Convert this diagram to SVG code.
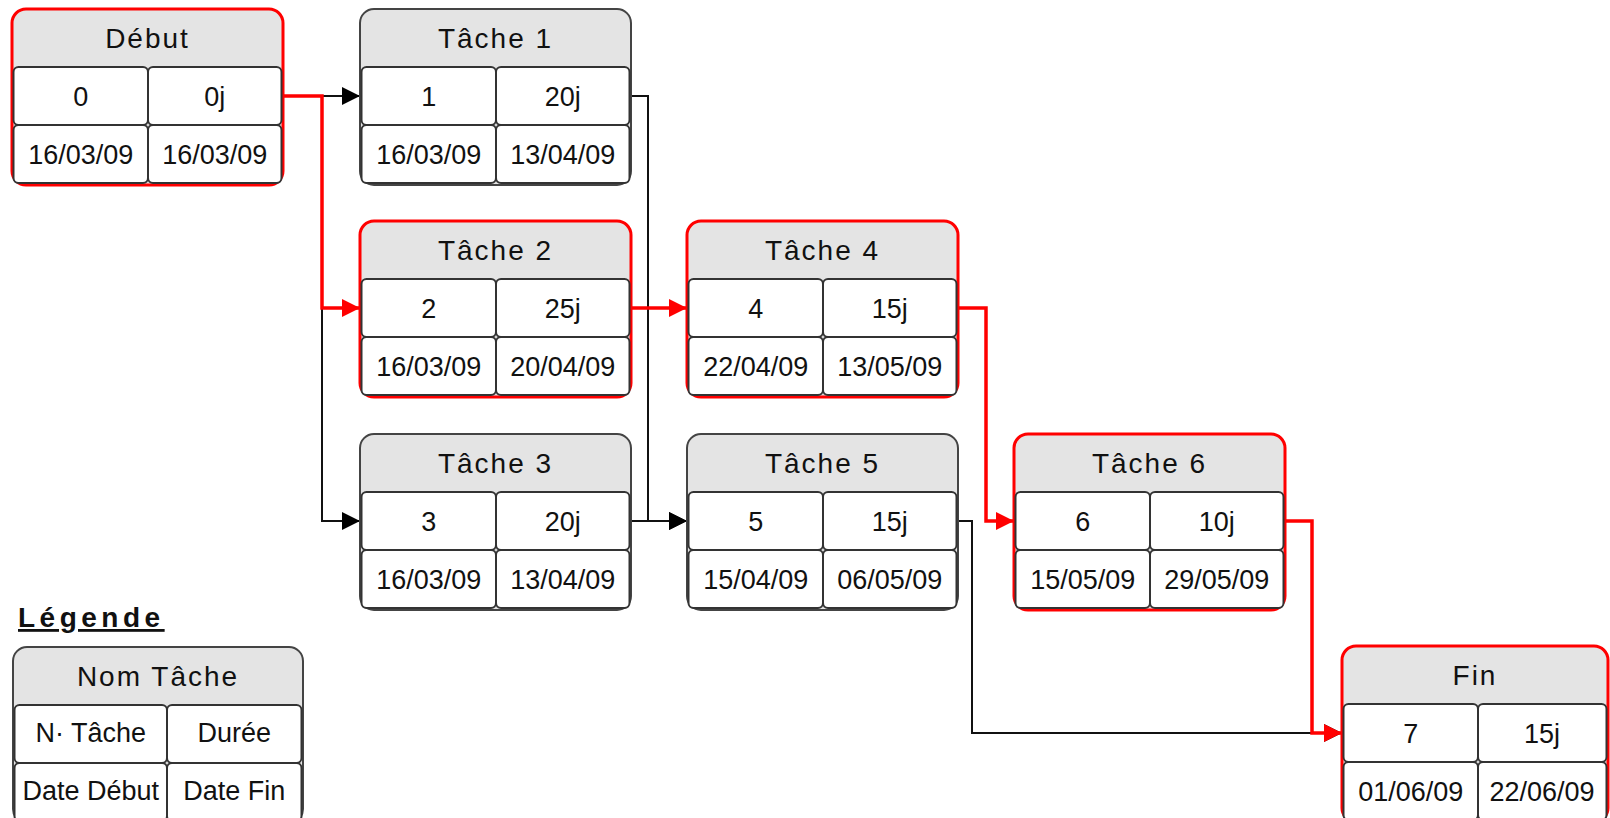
<svg xmlns="http://www.w3.org/2000/svg" width="1610" height="818" viewBox="0 0 1610 818">
<defs>
<style>
.outer{fill:#e4e4e4;stroke:#444;stroke-width:2}
.crit{stroke:#ff0000;stroke-width:3}
.cell{fill:#fff;stroke:#333;stroke-width:2}
.h{font-family:"Liberation Sans",Arial,sans-serif;font-size:28px;letter-spacing:2px;fill:#111;text-anchor:middle}
.c{font-family:"Liberation Sans",Arial,sans-serif;font-size:27px;fill:#111;text-anchor:middle}
.lk{fill:none;stroke:#111;stroke-width:2}
.lr{fill:none;stroke:#ff0000;stroke-width:3.5}
</style>
<marker id="ab" markerUnits="userSpaceOnUse" markerWidth="20" markerHeight="20" refX="18" refY="9" orient="auto"><path d="M0,0 L18,9 L0,18 Z" fill="#000"/></marker>
<marker id="ar" markerUnits="userSpaceOnUse" markerWidth="20" markerHeight="20" refX="18" refY="9" orient="auto"><path d="M0,0 L18,9 L0,18 Z" fill="#ff0000"/></marker>
</defs>
<rect width="1610" height="818" fill="#fff"/>

<g id="connectors">
<path class="lk" d="M283,96 H360" marker-end="url(#ab)"/>
<path class="lk" d="M283,96 H322 V521 H360" marker-end="url(#ab)"/>
<path class="lk" d="M631,96 H648 V521 H687" marker-end="url(#ab)"/>
<path class="lk" d="M631,521 H687" marker-end="url(#ab)"/>
<path class="lk" d="M958,521 H972 V733 H1342" marker-end="url(#ab)"/>
<path class="lr" d="M283,96 H322 V308 H360" marker-end="url(#ar)"/>
<path class="lr" d="M631,308 H687" marker-end="url(#ar)"/>
<path class="lr" d="M958,308 H986 V521 H1014" marker-end="url(#ar)"/>
<path class="lr" d="M1285,521 H1312 V733 H1342" marker-end="url(#ar)"/>
</g>

<g id="debut" transform="translate(12,9)">
<rect class="outer crit" width="271" height="176" rx="14"/>
<rect class="cell" x="1.5" y="58" width="134.5" height="58" rx="5"/>
<rect class="cell" x="136" y="58" width="133.5" height="58" rx="5"/>
<rect class="cell" x="1.5" y="116" width="134.5" height="58" rx="5"/>
<rect class="cell" x="136" y="116" width="133.5" height="58" rx="5"/>
<text class="h" x="135.5" y="39">Début</text>
<text class="c" x="68.75" y="97">0</text>
<text class="c" x="202.75" y="97">0j</text>
<text class="c" x="68.75" y="155">16/03/09</text>
<text class="c" x="202.75" y="155">16/03/09</text>
</g>

<g id="tache1" transform="translate(360,9)">
<rect class="outer" width="271" height="176" rx="14"/>
<rect class="cell" x="1.5" y="58" width="134.5" height="58" rx="5"/>
<rect class="cell" x="136" y="58" width="133.5" height="58" rx="5"/>
<rect class="cell" x="1.5" y="116" width="134.5" height="58" rx="5"/>
<rect class="cell" x="136" y="116" width="133.5" height="58" rx="5"/>
<text class="h" x="135.5" y="39">Tâche 1</text>
<text class="c" x="68.75" y="97">1</text>
<text class="c" x="202.75" y="97">20j</text>
<text class="c" x="68.75" y="155">16/03/09</text>
<text class="c" x="202.75" y="155">13/04/09</text>
</g>

<g id="tache2" transform="translate(360,221)">
<rect class="outer crit" width="271" height="176" rx="14"/>
<rect class="cell" x="1.5" y="58" width="134.5" height="58" rx="5"/>
<rect class="cell" x="136" y="58" width="133.5" height="58" rx="5"/>
<rect class="cell" x="1.5" y="116" width="134.5" height="58" rx="5"/>
<rect class="cell" x="136" y="116" width="133.5" height="58" rx="5"/>
<text class="h" x="135.5" y="39">Tâche 2</text>
<text class="c" x="68.75" y="97">2</text>
<text class="c" x="202.75" y="97">25j</text>
<text class="c" x="68.75" y="155">16/03/09</text>
<text class="c" x="202.75" y="155">20/04/09</text>
</g>

<g id="tache3" transform="translate(360,434)">
<rect class="outer" width="271" height="176" rx="14"/>
<rect class="cell" x="1.5" y="58" width="134.5" height="58" rx="5"/>
<rect class="cell" x="136" y="58" width="133.5" height="58" rx="5"/>
<rect class="cell" x="1.5" y="116" width="134.5" height="58" rx="5"/>
<rect class="cell" x="136" y="116" width="133.5" height="58" rx="5"/>
<text class="h" x="135.5" y="39">Tâche 3</text>
<text class="c" x="68.75" y="97">3</text>
<text class="c" x="202.75" y="97">20j</text>
<text class="c" x="68.75" y="155">16/03/09</text>
<text class="c" x="202.75" y="155">13/04/09</text>
</g>

<g id="tache4" transform="translate(687,221)">
<rect class="outer crit" width="271" height="176" rx="14"/>
<rect class="cell" x="1.5" y="58" width="134.5" height="58" rx="5"/>
<rect class="cell" x="136" y="58" width="133.5" height="58" rx="5"/>
<rect class="cell" x="1.5" y="116" width="134.5" height="58" rx="5"/>
<rect class="cell" x="136" y="116" width="133.5" height="58" rx="5"/>
<text class="h" x="135.5" y="39">Tâche 4</text>
<text class="c" x="68.75" y="97">4</text>
<text class="c" x="202.75" y="97">15j</text>
<text class="c" x="68.75" y="155">22/04/09</text>
<text class="c" x="202.75" y="155">13/05/09</text>
</g>

<g id="tache5" transform="translate(687,434)">
<rect class="outer" width="271" height="176" rx="14"/>
<rect class="cell" x="1.5" y="58" width="134.5" height="58" rx="5"/>
<rect class="cell" x="136" y="58" width="133.5" height="58" rx="5"/>
<rect class="cell" x="1.5" y="116" width="134.5" height="58" rx="5"/>
<rect class="cell" x="136" y="116" width="133.5" height="58" rx="5"/>
<text class="h" x="135.5" y="39">Tâche 5</text>
<text class="c" x="68.75" y="97">5</text>
<text class="c" x="202.75" y="97">15j</text>
<text class="c" x="68.75" y="155">15/04/09</text>
<text class="c" x="202.75" y="155">06/05/09</text>
</g>

<g id="tache6" transform="translate(1014,434)">
<rect class="outer crit" width="271" height="176" rx="14"/>
<rect class="cell" x="1.5" y="58" width="134.5" height="58" rx="5"/>
<rect class="cell" x="136" y="58" width="133.5" height="58" rx="5"/>
<rect class="cell" x="1.5" y="116" width="134.5" height="58" rx="5"/>
<rect class="cell" x="136" y="116" width="133.5" height="58" rx="5"/>
<text class="h" x="135.5" y="39">Tâche 6</text>
<text class="c" x="68.75" y="97">6</text>
<text class="c" x="202.75" y="97">10j</text>
<text class="c" x="68.75" y="155">15/05/09</text>
<text class="c" x="202.75" y="155">29/05/09</text>
</g>

<g id="fin" transform="translate(1342,646)">
<rect class="outer crit" width="266" height="176" rx="14"/>
<rect class="cell" x="1.5" y="58" width="134.5" height="58" rx="5"/>
<rect class="cell" x="136" y="58" width="128.5" height="58" rx="5"/>
<rect class="cell" x="1.5" y="116" width="134.5" height="58" rx="5"/>
<rect class="cell" x="136" y="116" width="128.5" height="58" rx="5"/>
<text class="h" x="133" y="39">Fin</text>
<text class="c" x="68.75" y="97">7</text>
<text class="c" x="200" y="97">15j</text>
<text class="c" x="68.75" y="155">01/06/09</text>
<text class="c" x="200" y="155">22/06/09</text>
</g>

<g id="legende">
<text x="18" y="627" font-family="'Liberation Sans',Arial,sans-serif" font-size="28" font-weight="bold" letter-spacing="4.5" text-decoration="underline" fill="#111">Légende</text>
<g transform="translate(13,647)">
<rect class="outer" width="290" height="176" rx="14"/>
<rect class="cell" x="1.5" y="58" width="152.5" height="58" rx="5"/>
<rect class="cell" x="154" y="58" width="134.5" height="58" rx="5"/>
<rect class="cell" x="1.5" y="116" width="152.5" height="58" rx="5"/>
<rect class="cell" x="154" y="116" width="134.5" height="58" rx="5"/>
<text class="h" x="145" y="39">Nom Tâche</text>
<text class="c" x="77.75" y="95" font-size="26">N· Tâche</text>
<text class="c" x="221.25" y="95" font-size="26">Durée</text>
<text class="c" x="77.75" y="153" font-size="26">Date Début</text>
<text class="c" x="221.25" y="153" font-size="26">Date Fin</text>
</g>
</g>
</svg>
